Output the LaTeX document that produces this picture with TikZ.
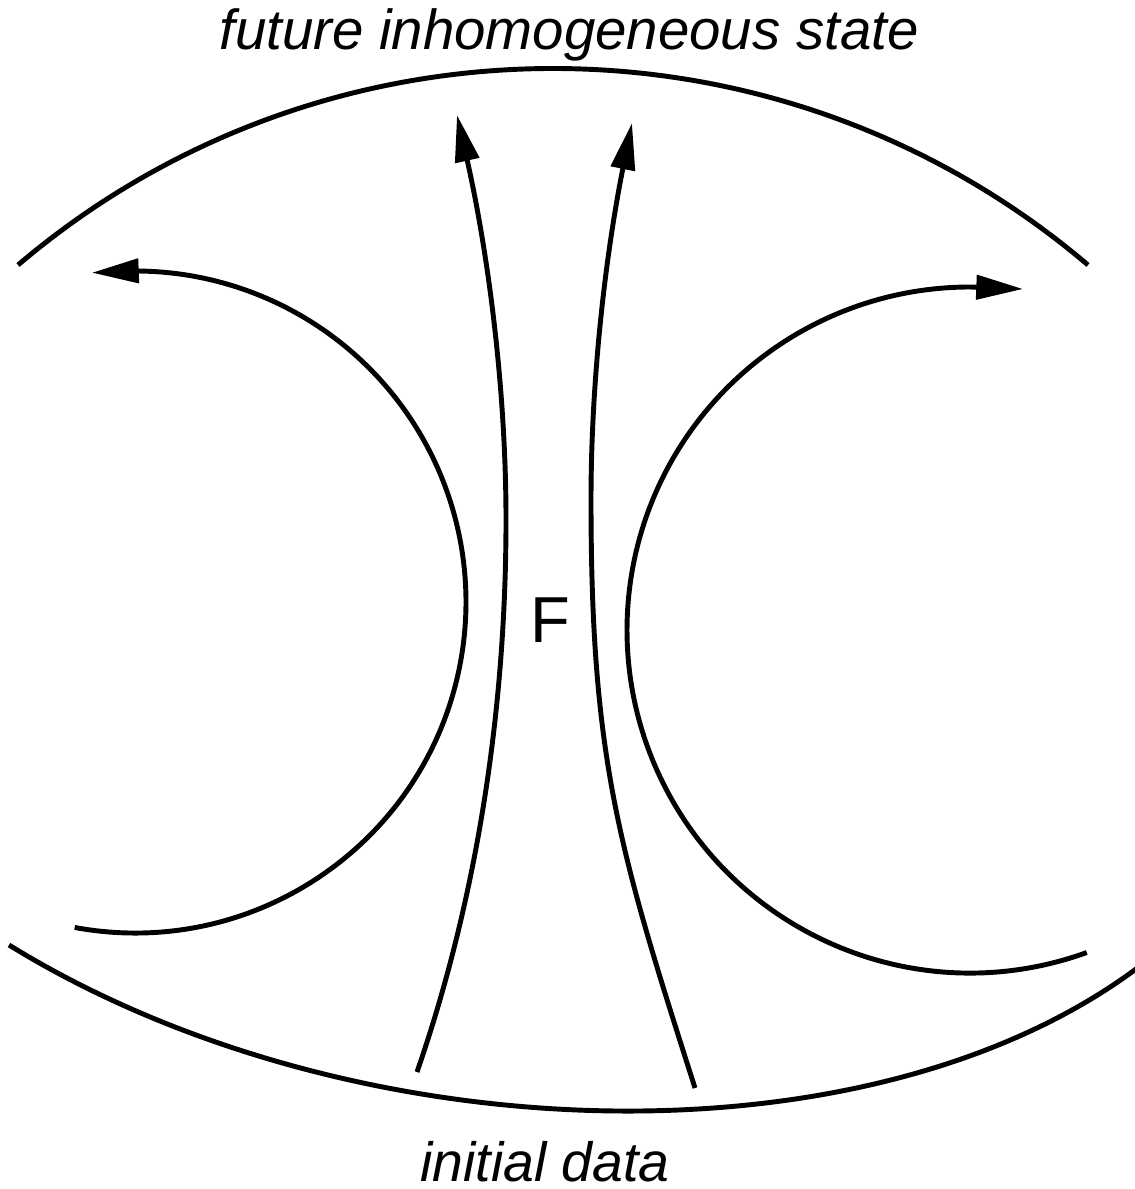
\documentclass[tikz,border=0pt]{standalone}
\usepackage{fontspec}
\setmainfont{Liberation Sans}
\usetikzlibrary{arrows.meta}
\begin{document}
\begin{tikzpicture}[x=0.02cm,y=-0.02cm,
  curve/.style={line width=2.8pt},
  flow/.style={curve,-{Triangle[length=26.6pt,width=13.6pt]}},
  lbl/.style={inner sep=0pt,anchor=base,font=\fontsize{32.1pt}{36pt}\selectfont\itshape}]
\useasboundingbox (0,0) rectangle (1134,1189);
% boundaries
\draw[curve] (18,265) .. controls (326,3) and (780,3) .. (1088,265);
\draw[curve] (9,945) .. controls (350,1155) and (870,1170) .. (1140,966);
% side flows
\coordinate (lc) at (135,602);
\coordinate (rc) at (970,630);
\coordinate (ltip) at (92,272.7);
\coordinate (rtip) at (1023,289);
\draw[flow] ([shift={(100.5:331)}]lc) arc[start angle=100.5,end angle=-90,radius=331] -- (ltip);
\draw[flow] ([shift={(70.1:343)}]rc) arc[start angle=70.1,end angle=270,radius=343] -- (rtip);
% central flows
\draw[flow] (417,1072) .. controls (478,896) and (506,706) .. (506,520)
                       .. controls (506,384) and (487,248) .. (457,115);
\draw[flow] (695,1088) .. controls (619,850) and (591,760) .. (591,500)
                       .. controls (591,373) and (607,247.5) .. (632,123);
% labels
\node[lbl] (top) at (569,50) {future inhomogeneous state};
\node[lbl,font=\fontsize{31.5pt}{35pt}\selectfont\itshape] (bot) at (545,1181) {initial data};
\node[inner sep=0pt,anchor=base,font=\fontsize{37pt}{42pt}\selectfont] (F) at (550,642) {F};
\end{tikzpicture}
\end{document}
